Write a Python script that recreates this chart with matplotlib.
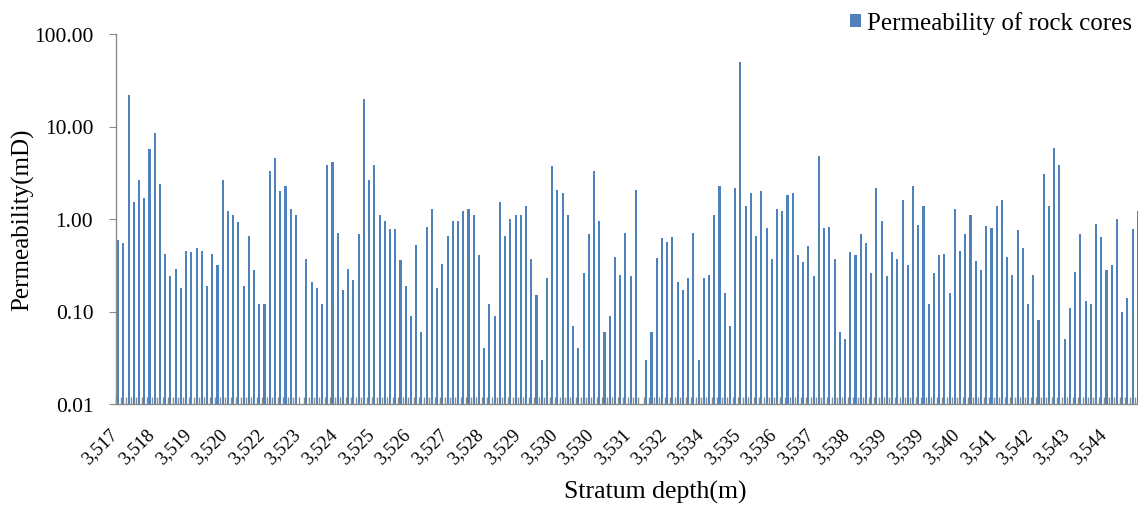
import numpy as np
import matplotlib
matplotlib.use('Agg')
import matplotlib.pyplot as plt
from matplotlib.patches import Patch
from matplotlib.ticker import FixedLocator, FixedFormatter

nan = np.nan

# Core permeability (mD), one value per sample, top to bottom of the cored interval
permeability = [
    0.59, 0.55, 22.0, 1.51, 2.67, 1.70, 5.70, 8.60, 2.40, 0.42,
    0.24, 0.29, 0.18, 0.45, 0.44, 0.49, 0.45, 0.19, 0.42, 0.32,
    2.67, 1.21, 1.10, 0.93, 0.19, 0.65, 0.28, 0.12, 0.12, 3.30,
    4.57, 2.00, 2.26, 1.29, 1.10, nan, 0.37, 0.21, 0.18, 0.12,
    3.87, 4.13, 0.71, 0.17, 0.29, 0.22, 0.68, 19.7, 2.67, 3.87,
    1.10, 0.95, 0.77, 0.78, 0.36, 0.19, 0.09, 0.53, 0.06, 0.81,
    1.29, 0.18, 0.33, 0.66, 0.95, 0.95, 1.21, 1.29, 1.10, 0.41,
    0.04, 0.12, 0.09, 1.51, 0.65, 1.00, 1.10, 1.10, 1.39, 0.37,
    0.15, 0.03, 0.23, 3.78, 2.08, 1.92, 1.10, 0.07, 0.04, 0.26,
    0.69, 3.30, 0.95, 0.06, 0.09, 0.39, 0.25, 0.71, 0.24, 2.08,
    nan, 0.03, 0.06, 0.38, 0.63, 0.57, 0.64, 0.21, 0.17, 0.23,
    0.71, 0.03, 0.23, 0.25, 1.10, 2.28, 0.16, 0.07, 2.17, 49.2,
    1.39, 1.92, 0.66, 2.00, 0.79, 0.37, 1.29, 1.21, 1.80, 1.92,
    0.41, 0.34, 0.51, 0.24, 4.80, 0.79, 0.81, 0.37, 0.06, 0.05,
    0.44, 0.41, 0.69, 0.55, 0.26, 2.17, 0.94, 0.24, 0.44, 0.37,
    1.60, 0.32, 2.28, 0.86, 1.39, 0.12, 0.26, 0.41, 0.42, 0.16,
    1.29, 0.45, 0.68, 1.10, 0.35, 0.28, 0.83, 0.79, 1.39, 1.60,
    0.39, 0.25, 0.76, 0.48, 0.12, 0.25, 0.08, 3.10, 1.39, 5.90,
    3.87, 0.05, 0.11, 0.27, 0.68, 0.13, 0.12, 0.88, 0.64, 0.28,
    0.32, 1.00, 0.10, 0.14, 0.77, 1.22,
]

# Depth labels shown every 7th sample
depth_labels = [
    '3,517', '3,518', '3,519', '3,520', '3,522', '3,523', '3,524',
    '3,525', '3,526', '3,527', '3,528', '3,529', '3,530', '3,530',
    '3,531', '3,532', '3,534', '3,535', '3,536', '3,537', '3,538',
    '3,539', '3,539', '3,540', '3,541', '3,542', '3,543', '3,544',
]
label_step = 7

plt.rcParams['font.family'] = ['Liberation Serif', 'DejaVu Serif']

blue = '#4f81bd'
grey = '#8c8c8c'

n = len(permeability)
x = np.arange(n)

fig = plt.figure(figsize=(11.38, 5.06), dpi=100)
ax = fig.add_axes([115.5 / 1138, 101 / 506, 1025 / 1138, 370 / 506])

ax.bar(x, permeability, width=0.4, color=blue, zorder=2)

ax.set_yscale('log')
ax.set_ylim(0.01, 100)
ax.set_xlim(-0.5, n - 0.5)

yticks = [0.01, 0.1, 1, 10, 100]
ax.yaxis.set_major_locator(FixedLocator(yticks))
ax.yaxis.set_major_formatter(FixedFormatter(['%.2f' % v for v in yticks]))
ax.yaxis.set_minor_locator(FixedLocator([]))
ax.tick_params(axis='y', which='major', direction='out', length=5,
               color=grey, labelsize=15.5, pad=11)

# depth labels on every 7th sample, category boundary ticks inside
ax.set_xticks(x[::label_step])
ax.set_xticklabels(depth_labels, rotation=45, ha='right', va='baseline',
                   rotation_mode='anchor', fontsize=13.5)
ax.set_xticks(np.arange(n + 1) - 0.5, minor=True)
ax.tick_params(axis='x', which='major', length=0, pad=22)
ax.tick_params(axis='x', which='minor', direction='in', length=5,
               color=grey, width=1)

for side in ('top', 'right'):
    ax.spines[side].set_visible(False)
for side in ('left', 'bottom'):
    ax.spines[side].set_color(grey)
    ax.spines[side].set_linewidth(1)

ax.set_ylabel('Permeability(mD)', fontsize=18, labelpad=0)
ax.set_xlabel('Stratum depth(m)', fontsize=18.5, labelpad=9)
ax.xaxis.label.set_x((655 - 115.5) / 1025)

handle = Patch(facecolor=blue, edgecolor='none')
fig.legend([handle], ['Permeability of rock cores'], loc='upper right',
           bbox_to_anchor=(1.006, 1.0), frameon=False, fontsize=18,
           handlelength=0.45, handleheight=0.45, handletextpad=0.25,
           borderaxespad=0.1)

fig.savefig('out.png', dpi=100)
